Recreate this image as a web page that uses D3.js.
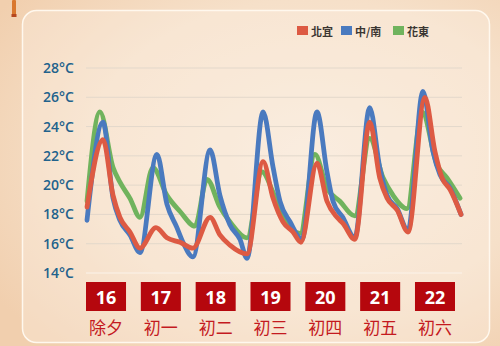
<!DOCTYPE html>
<html>
<head>
<meta charset="utf-8">
<script src="https://cdn.jsdelivr.net/npm/d3@7"></script>
<style>
  html, body { margin: 0; padding: 0; background: #f5dfc8; }
  svg { display: block; font-family: "Noto Sans CJK TC", "Noto Sans", sans-serif; }
</style>
</head>
<body>
<svg id="chart"></svg>
<script>
const width = 500;
const height = 346;

// data: hours from start of the forecast, temperature in °C
const seriesNames = ["北宜", "中/南", "花東"];
const seriesColors = ["#dd5a43", "#4a7abf", "#70b35d"];

const northYilan = [
    [0, 18.5], [7.2, 23.1], [11.7, 19.3], [14.8, 17.8], [19.3, 16.8], [23.8, 15.7],
    [31.0, 17.1], [35.9, 16.4], [41.8, 16.1], [47.6, 15.7],
    [55.3, 17.8], [59.7, 16.6], [64.2, 15.9], [71.9, 15.3],
    [79.1, 21.6], [83.6, 19.1], [88.0, 17.5], [92.5, 16.8], [96.1, 16.1],
    [103.3, 21.5], [107.8, 18.9], [112.3, 17.8], [114.9, 17.4], [120.3, 16.3],
    [127.0, 24.3], [131.5, 20.5], [134.8, 19.1], [139.3, 18.3], [144.2, 16.8],
    [151.8, 26.0], [156.3, 22.3], [159.5, 20.5], [163.1, 19.7], [168, 18.0]
];
const centralSouth = [
    [0, 17.6], [7.2, 24.3], [11.7, 19.1], [14.8, 17.6], [19.3, 16.6], [23.8, 15.4],
    [31.4, 22.1], [35.9, 18.7], [40.4, 17.1], [43.1, 16.1], [47.6, 15.1],
    [55.3, 22.4], [59.7, 19.3], [64.2, 17.3], [68.7, 16.3], [71.9, 15.0],
    [79.1, 25.0], [83.6, 21.2], [86.7, 18.9], [91.2, 17.5], [96.6, 16.3],
    [103.3, 25.0], [107.8, 20.9], [110.5, 18.9], [114.9, 17.8], [120.3, 16.4],
    [127.0, 25.3], [131.5, 21.2], [134.8, 19.3], [139.3, 18.4], [144.2, 16.9],
    [150.9, 26.4], [155.4, 22.3], [158.6, 20.7], [163.1, 19.8], [168, 18.0]
];
const eastern = [
    [0, 18.9], [5.8, 25.0], [11.7, 21.2], [14.8, 20.2], [19.3, 19.1], [23.8, 17.8],
    [29.6, 21.2], [35.9, 19.3], [41.8, 18.2], [48.5, 17.2],
    [53.9, 20.4], [59.7, 18.5], [64.2, 17.5], [71.9, 16.4],
    [78.6, 20.9], [83.6, 19.5], [88.0, 17.8], [95.7, 16.7],
    [102.4, 22.1], [107.8, 19.8], [113.6, 18.9], [120.3, 17.9],
    [127.0, 23.2], [133.0, 20.5], [137.5, 19.3], [143.7, 18.4],
    [150.5, 25.0], [157.2, 21.4], [161.7, 20.5], [167.6, 19.1]
];
const seriesData = [northYilan, centralSouth, eastern];

const days = ["16", "17", "18", "19", "20", "21", "22"];
const lunarDays = ["除夕", "初一", "初二", "初三", "初四", "初五", "初六"];
const tempTicks = [14, 16, 18, 20, 22, 24, 26, 28];

const svg = d3.select("#chart")
    .attr("width", width)
    .attr("height", height);

// background
const defs = svg.append("defs");
const bg = defs.append("radialGradient")
    .attr("id", "bg")
    .attr("cx", "62%").attr("cy", "45%").attr("r", "75%");
bg.append("stop").attr("offset", "0%").attr("stop-color", "#f9ebdc");
bg.append("stop").attr("offset", "60%").attr("stop-color", "#f6e0c9");
bg.append("stop").attr("offset", "100%").attr("stop-color", "#f1cfae");

svg.append("rect")
    .attr("width", width)
    .attr("height", height)
    .attr("fill", "url(#bg)");

// panel
svg.append("rect")
    .attr("x", 22.5).attr("y", 10.5)
    .attr("width", 467).attr("height", 332)
    .attr("rx", 14)
    .attr("fill", "#fbf0e4")
    .attr("fill-opacity", 0.35)
    .attr("stroke", "#fff8ee")
    .attr("stroke-width", 1.5);

// little firecracker at the corner
svg.append("rect")
    .attr("x", 12).attr("y", 0)
    .attr("width", 4).attr("height", 16)
    .attr("rx", 1)
    .attr("fill", "#d9782f");
svg.append("rect")
    .attr("x", 11.5).attr("y", 14)
    .attr("width", 5).attr("height", 3)
    .attr("fill", "#b5471f");

const x = d3.scaleLinear()
    .domain([0, 168])
    .range([87, 461]);

const y = d3.scaleLinear()
    .domain([14, 28])
    .range([273, 68]);

// gridlines
svg.append("g")
    .selectAll("line")
    .data(tempTicks)
    .join("line")
    .attr("x1", 86)
    .attr("x2", 462)
    .attr("y1", d => y(d))
    .attr("y2", d => y(d))
    .attr("stroke", d => d === 14 ? "#fbf3ea" : "#e3d8cb")
    .attr("stroke-width", 1);

// y axis labels
const yAxis = d3.axisLeft(y)
    .tickValues(tempTicks)
    .tickFormat(d => d + "°C")
    .tickSize(0)
    .tickPadding(0);

const yAxisGroup = svg.append("g")
    .attr("transform", "translate(74,0)")
    .call(yAxis);
yAxisGroup.select(".domain").remove();
yAxisGroup.selectAll("text")
    .attr("fill", "#22628c")
    .attr("font-size", 14)
    .attr("font-weight", 600)
    .attr("font-family", "'Open Sans', 'Noto Sans', sans-serif");

// lines
const line = d3.line()
    .x(d => x(d[0]))
    .y(d => y(d[1]))
    .curve(d3.curveMonotoneX);

// draw green, blue, then red on top
[2, 1, 0].forEach(i => {
    svg.append("path")
        .datum(seriesData[i])
        .attr("d", line)
        .attr("fill", "none")
        .attr("stroke", seriesColors[i])
        .attr("stroke-width", 4.8)
        .attr("stroke-linejoin", "round")
        .attr("stroke-linecap", "round");
});

// legend
const legendX = [297, 341, 393];
const legend = svg.append("g");
seriesNames.forEach((name, i) => {
    legend.append("rect")
        .attr("x", legendX[i])
        .attr("y", 26)
        .attr("width", 11)
        .attr("height", 9)
        .attr("fill", seriesColors[i]);
    legend.append("text")
        .attr("x", legendX[i] + 14)
        .attr("y", 31)
        .attr("dominant-baseline", "central")
        .attr("font-size", 11)
        .attr("font-weight", 700)
        .attr("fill", "#3b3632")
        .text(name);
});

// date boxes
const band = d3.scaleBand()
    .domain(days)
    .range([86, 455])
    .paddingInner(0.27);

const dayGroup = svg.append("g")
    .selectAll("g")
    .data(days)
    .join("g")
    .attr("transform", d => `translate(${band(d)},0)`);

dayGroup.append("rect")
    .attr("y", 282)
    .attr("width", band.bandwidth())
    .attr("height", 29)
    .attr("fill", "#b5070d");

dayGroup.append("text")
    .attr("x", band.bandwidth() / 2)
    .attr("y", 297)
    .attr("text-anchor", "middle")
    .attr("dominant-baseline", "central")
    .attr("font-size", 18)
    .attr("font-weight", 700)
    .attr("font-family", "'Open Sans', 'Noto Sans', sans-serif")
    .attr("fill", "#ffffff")
    .text(d => d);

dayGroup.append("text")
    .attr("x", band.bandwidth() / 2)
    .attr("y", 326)
    .attr("text-anchor", "middle")
    .attr("dominant-baseline", "central")
    .attr("font-size", 17)
    .attr("fill", "#c41a1f")
    .text((d, i) => lunarDays[i]);
</script>
</body>
</html>
